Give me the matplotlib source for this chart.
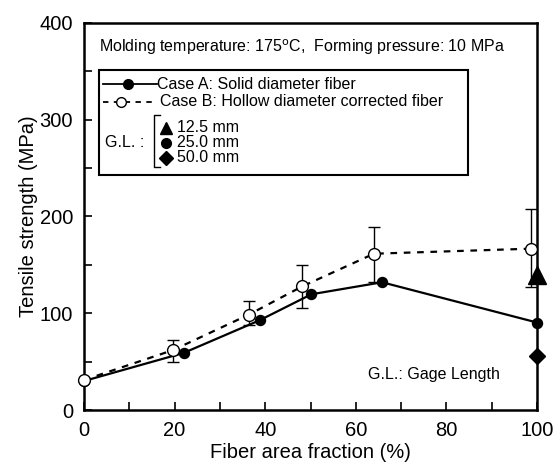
import matplotlib
matplotlib.use("Agg")
import matplotlib.pyplot as plt
from matplotlib.lines import Line2D
from matplotlib.patches import Rectangle

plt.rcParams['font.family'] = ['Liberation Sans', 'DejaVu Sans']

# Case A: solid diameter fiber
fa_x = [0, 22, 38.8, 50.2, 65.8, 100]
fa_y = [30, 59, 92.8, 119.6, 132, 90.4]

# Case B: hollow diameter corrected fiber
fb_x = [0, 19.7, 36.4, 48.2, 64, 98.6]
fb_y = [31, 62, 98.6, 127.8, 161.5, 166.7]
fb_hi = [31, 72, 113, 150, 189, 208]
fb_lo = [31, 50, 87.6, 105, 132, 127]

# Gage length results at 100 %
gl_x = [100, 100]
gl_tri_y = [139]
gl_dia_y = [55.7]

FS = 11.5

fig = plt.figure(figsize=(5.6, 4.67), dpi=100)
ax = fig.add_axes([0.15, 0.122, 0.809, 0.829])

yerr = [[y - lo for y, lo in zip(fb_y, fb_lo)], [hi - y for y, hi in zip(fb_y, fb_hi)]]
ax.errorbar(fb_x[1:], fb_y[1:], yerr=[yerr[0][1:], yerr[1][1:]], fmt='none',
            ecolor='black', elinewidth=1.0, capsize=4.5, capthick=1.0, zorder=2)

ax.plot(fb_x, fb_y, color='black', linestyle=(0, (3, 3)), linewidth=1.6, zorder=3)
ax.plot(fb_x, fb_y, linestyle='none', marker='o', markersize=8.5,
        markerfacecolor='white', markeredgecolor='black', markeredgewidth=1.0,
        zorder=5, clip_on=False)

ax.plot(fa_x, fa_y, color='black', linestyle='-', linewidth=1.6, marker='o',
        markersize=7.2, markerfacecolor='black', markeredgecolor='black',
        zorder=4, clip_on=False)

ax.plot(gl_x[:1], gl_tri_y, linestyle='none', marker='^', markersize=13,
        color='black', zorder=6, clip_on=False)
ax.plot(gl_x[1:], gl_dia_y, linestyle='none', marker='D', markersize=8.5,
        color='black', zorder=6, clip_on=False)

ax.set_xlim(0, 100)
ax.set_ylim(0, 400)
ax.set_xticks([0, 20, 40, 60, 80, 100])
ax.set_xticks([10, 30, 50, 70, 90], minor=True)
ax.set_yticks([0, 100, 200, 300, 400])
ax.set_yticks([50, 150, 250, 350], minor=True)
ax.tick_params(axis='both', which='both', direction='in', labelsize=14.5,
               top=False, right=False, width=1.2)
ax.tick_params(which='major', length=6, pad=8)
ax.tick_params(which='minor', length=6)
for s in ax.spines.values():
    s.set_linewidth(1.8)

ax.set_xlabel('Fiber area fraction (%)', fontsize=14.5, labelpad=2)
ax.set_ylabel('Tensile strength (MPa)', fontsize=14.5, labelpad=1)

ax.text(0.033, 0.938, 'Molding temperature: 175$^{\\mathrm{o}}$C,  Forming pressure: 10 MPa',
        transform=ax.transAxes, fontsize=FS, va='center', ha='left')
ax.text(0.918, 0.093, 'G.L.: Gage Length', transform=ax.transAxes,
        fontsize=FS, ha='right', va='center')

# Legend box
box = Rectangle((0.033, 0.607), 0.815, 0.272, transform=ax.transAxes,
                fill=False, edgecolor='black', linewidth=1.5, zorder=7)
ax.add_patch(box)
ax.add_line(Line2D([0.042, 0.097, 0.161], [0.842, 0.842, 0.842], transform=ax.transAxes,
                   color='black', linewidth=1.3, marker='o', markevery=[1],
                   markersize=7, zorder=8))
ax.add_line(Line2D([0.042, 0.082, 0.161], [0.796, 0.796, 0.796], transform=ax.transAxes,
                   color='black', linewidth=1.3, linestyle=(0, (3, 3)), marker='o',
                   markevery=[1], markersize=7, markerfacecolor='white', zorder=8))
ax.text(0.161, 0.842, 'Case A: Solid diameter fiber', transform=ax.transAxes,
        fontsize=FS, va='center', zorder=8)
ax.text(0.168, 0.796, 'Case B: Hollow diameter corrected fiber', transform=ax.transAxes,
        fontsize=FS, va='center', zorder=8)
ax.text(0.046, 0.690, 'G.L. :', transform=ax.transAxes, fontsize=FS,
        va='center', zorder=8)
ax.plot([0.168, 0.155, 0.155, 0.168], [0.762, 0.762, 0.628, 0.628],
        transform=ax.transAxes, color='black', linewidth=1.0, zorder=8)
ax.plot([0.181], [0.729], transform=ax.transAxes, marker='^', markersize=9,
        color='black', zorder=8, clip_on=False)
ax.plot([0.181], [0.690], transform=ax.transAxes, marker='o', markersize=7,
        color='black', zorder=8, clip_on=False)
ax.plot([0.181], [0.651], transform=ax.transAxes, marker='D', markersize=7,
        color='black', zorder=8, clip_on=False)
ax.text(0.206, 0.729, '12.5 mm', transform=ax.transAxes, fontsize=FS, va='center', zorder=8)
ax.text(0.206, 0.690, '25.0 mm', transform=ax.transAxes, fontsize=FS, va='center', zorder=8)
ax.text(0.206, 0.651, '50.0 mm', transform=ax.transAxes, fontsize=FS, va='center', zorder=8)

fig.savefig('out.png', dpi=100)
